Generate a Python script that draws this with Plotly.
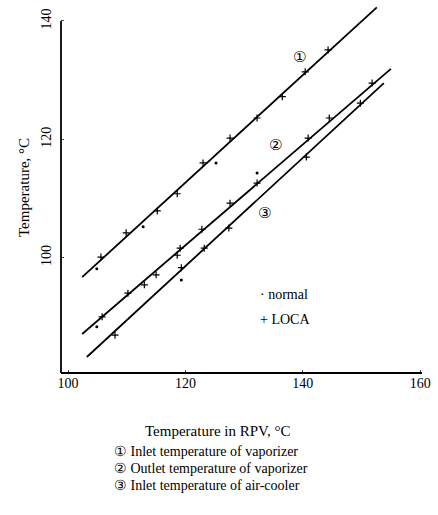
import plotly.graph_objects as go

# Fitted lines (endpoints)
line1_x = [102.4, 152.6]
line1_y = [96.7, 142.3]
line2_x = [102.4, 155.0]
line2_y = [87.1, 131.9]
line3_x = [103.2, 153.8]
line3_y = [83.2, 129.5]

# LOCA points (+)
loca1_x = [105.6, 109.9, 115.2, 118.6, 123.0, 127.6, 132.2, 136.5, 140.4, 144.3]
loca1_y = [100.1, 104.2, 107.9, 110.8, 116.0, 120.2, 123.6, 127.2, 131.4, 135.1]
loca2_x = [105.8, 110.2, 113.0, 115.0, 118.6, 119.1, 122.8, 127.6, 132.2, 140.9, 144.5, 151.8]
loca2_y = [90.0, 94.0, 95.4, 97.1, 100.4, 101.6, 104.8, 109.2, 112.6, 120.2, 123.6, 129.5]
loca3_x = [108.0, 119.3, 123.2, 127.4, 140.6, 149.8]
loca3_y = [86.9, 98.3, 101.6, 105.0, 117.0, 126.1]

# normal points (dots)
norm_x = [104.9, 112.8, 125.2, 104.9, 132.2, 119.3]
norm_y = [98.1, 105.2, 116.0, 88.3, 114.3, 96.2]

x_ticks = [100, 120, 140, 160]
y_ticks = [80, 100, 120, 140]

legend_lines = [
    "\u2460 Inlet temperature of vaporizer",
    "\u2461 Outlet temperature of vaporizer",
    "\u2462 Inlet temperature of air-cooler",
]

FONT = "Liberation Serif"
fig = go.Figure()
for lx, ly in [(line1_x, line1_y), (line2_x, line2_y), (line3_x, line3_y)]:
    fig.add_trace(go.Scatter(x=lx, y=ly, mode="lines",
                             line=dict(color="black", width=1.8), showlegend=False))
for px_, py_ in [(loca1_x, loca1_y), (loca2_x, loca2_y), (loca3_x, loca3_y)]:
    fig.add_trace(go.Scatter(x=px_, y=py_, mode="markers",
                             marker=dict(symbol="cross-thin", size=5,
                                         line=dict(color="black", width=1.2)),
                             showlegend=False))
fig.add_trace(go.Scatter(x=norm_x, y=norm_y, mode="markers",
                         marker=dict(symbol="circle", size=3, color="black"),
                         showlegend=False))

W, H = 438, 515
L, R, T, B = 61, 16, 5, 142
ph = H - T - B
pw = W - L - R

def py(p):
    return (H - B - p) / ph

def px(p):
    return (p - L) / pw

fig.update_layout(
    width=W, height=H,
    margin=dict(l=L, r=R, t=T, b=B),
    paper_bgcolor="white", plot_bgcolor="white",
    font=dict(family=FONT, size=14, color="black"),
    xaxis=dict(range=[98.8, 160.3], tickvals=x_ticks, ticks="inside", ticklen=3,
               showgrid=False, zeroline=False, showline=False,
               tickfont=dict(family=FONT, size=14)),
    yaxis=dict(range=[80.5, 142.7], tickvals=y_ticks, ticks="inside", ticklen=3,
               showgrid=False, zeroline=False, showline=False, tickangle=-90,
               ticklabelstandoff=6,
               tickfont=dict(family=FONT, size=14)),
    shapes=[
        dict(type="line", xref="paper", yref="y", x0=0, x1=0, y0=80.5, y1=140,
             line=dict(color="black", width=1.8)),
        dict(type="line", xref="paper", yref="paper", x0=0, x1=1, y0=0, y1=0,
             line=dict(color="black", width=1.8)),
    ],
)

ann = []
# circled labels
for txt, ax_, ay_ in [("\u2460", 139.5, 133.9), ("\u2461", 135.3, 119.0), ("\u2462", 133.4, 107.5)]:
    ann.append(dict(x=ax_, y=ay_, xref="x", yref="y", text=txt, showarrow=False,
                    font=dict(family="DejaVu Sans", size=15)))
ann.append(dict(x=132.4, y=93.7, xref="x", yref="y", text="\u00b7 normal", showarrow=False,
                xanchor="left", font=dict(family=FONT, size=14)))
ann.append(dict(x=132.4, y=89.5, xref="x", yref="y", text="+ LOCA", showarrow=False,
                xanchor="left", font=dict(family=FONT, size=14)))
ann.append(dict(x=px(218), y=py(441), xref="paper", yref="paper",
                text="Temperature in RPV, \u00b0C", showarrow=False,
                font=dict(family=FONT, size=15)))
for i, t in enumerate(legend_lines):
    ann.append(dict(x=px(112), y=py(461 + 17 * i), xref="paper", yref="paper",
                    text=t, showarrow=False, xanchor="left",
                    font=dict(family=FONT, size=14)))
ann.append(dict(x=px(14), y=py(188), xref="paper", yref="paper",
                text="Temperature, \u00b0C", showarrow=False, textangle=-90,
                font=dict(family=FONT, size=15)))
fig.update_layout(annotations=ann)

fig.write_html("out.html", config={"displayModeBar": False},
               post_script="document.body.style.margin='0';document.body.style.padding='0';")
